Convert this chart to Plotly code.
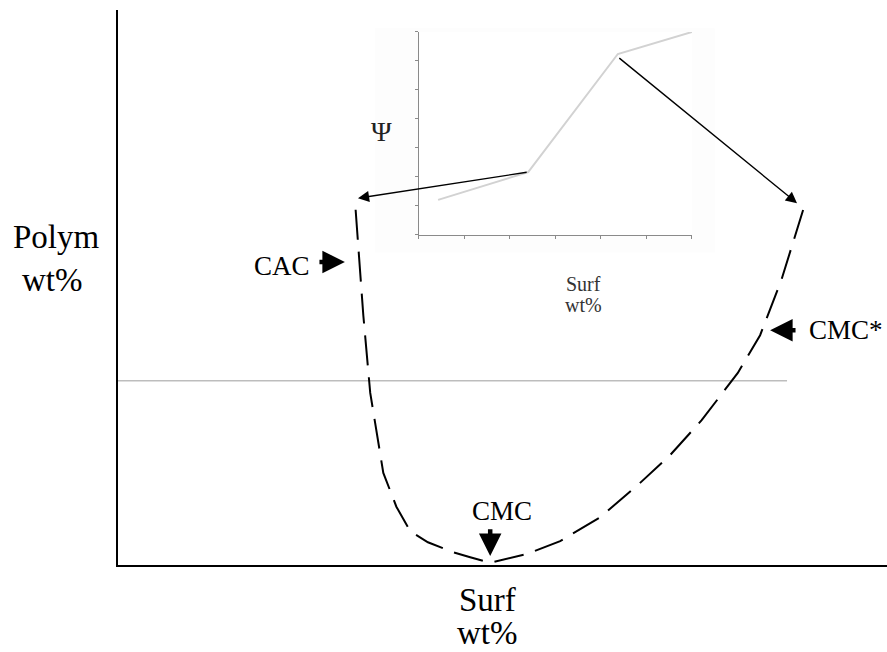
import plotly.graph_objects as go

# Phase boundary (surfactant wt% vs polymer wt%), drawn dashed
boundary_surf = [3.09, 3.12, 3.19, 3.28, 3.45, 3.62, 3.80, 4.03, 4.36, 4.58, 4.84,
                 5.32, 5.75, 6.27, 6.79, 7.18, 7.59, 8.06, 8.35, 8.63, 8.91]
boundary_polym = [6.40, 5.86, 4.50, 3.10, 1.66, 1.05, 0.61, 0.41, 0.23, 0.14, 0.04,
                  0.20, 0.43, 0.86, 1.48, 1.98, 2.61, 3.46, 4.14, 5.15, 6.40]

# Constant-polymer cut through the diagram
cut_polym = 3.32
cut_surf = [0.0, 8.70]

# Inset: property Psi along the cut
inset_surf = [0.42, 2.40, 4.37, 6.0]
inset_psi = [1.21, 2.17, 6.24, 7.0]

# Where the inset knees land on the boundary
knee_targets = [(3.12, 6.61), (8.83, 6.52)]

MAIN_RANGE = (0, 10)
INSET_X_RANGE = (0, 6)
INSET_Y_RANGE = (0, 7)
INSET_X_DOMAIN = (0.3914, 0.7464)
INSET_Y_DOMAIN = (0.5946, 0.9604)

SERIF = "Liberation Serif, Times New Roman, serif"


def inset_to_main(xv, yv):
    fx = INSET_X_DOMAIN[0] + (xv - INSET_X_RANGE[0]) / (INSET_X_RANGE[1] - INSET_X_RANGE[0]) * (INSET_X_DOMAIN[1] - INSET_X_DOMAIN[0])
    fy = INSET_Y_DOMAIN[0] + (yv - INSET_Y_RANGE[0]) / (INSET_Y_RANGE[1] - INSET_Y_RANGE[0]) * (INSET_Y_DOMAIN[1] - INSET_Y_DOMAIN[0])
    span = MAIN_RANGE[1] - MAIN_RANGE[0]
    return MAIN_RANGE[0] + fx * span, MAIN_RANGE[0] + fy * span


fig = go.Figure()

fig.add_trace(go.Scatter(
    x=cut_surf, y=[cut_polym, cut_polym], mode="lines",
    line=dict(color="#bdbdbd", width=1.5), xaxis="x", yaxis="y", hoverinfo="skip"))

fig.add_trace(go.Scatter(
    x=boundary_surf, y=boundary_polym, mode="lines",
    line=dict(color="black", width=2, dash="30px,12px"), xaxis="x", yaxis="y", hoverinfo="skip"))

fig.add_trace(go.Scatter(
    x=inset_surf, y=inset_psi, mode="lines",
    line=dict(color="#d2d2d2", width=2), xaxis="x2", yaxis="y2", hoverinfo="skip"))

annotations = []

# Arrows from the inset knees to the boundary
for (ix, iy), (tx, ty) in zip([(inset_surf[1], inset_psi[1]), (inset_surf[2], inset_psi[2] - 0.1)], knee_targets):
    sx, sy = inset_to_main(ix, iy)
    annotations.append(dict(
        x=tx, y=ty, ax=sx, ay=sy, xref="x", yref="y", axref="x", ayref="y",
        text="", showarrow=True, arrowhead=2, arrowsize=1.6, arrowwidth=1.4, arrowcolor="black"))

# Short bold pointer arrows
pointers = [
    dict(x=2.95, y=5.46, ax=2.60, ay=5.46),   # CAC
    dict(x=8.48, y=4.23, ax=8.83, ay=4.23),   # CMC*
    dict(x=4.84, y=0.16, ax=4.84, ay=0.67),   # CMC
]
for p in pointers:
    annotations.append(dict(
        **p, xref="x", yref="y", axref="x", ayref="y", text="", showarrow=True,
        arrowhead=2, arrowsize=1.0, arrowwidth=4.5, arrowcolor="black"))

labels = [
    dict(text="CAC", x=2.13, y=5.39, xanchor="center"),
    dict(text="CMC*", x=8.96, y=4.23, xanchor="left"),
    dict(text="CMC", x=4.99, y=0.97, xanchor="center"),
]
for lab in labels:
    annotations.append(dict(
        **lab, xref="x", yref="y", yanchor="middle", showarrow=False,
        font=dict(family=SERIF, size=27, color="black")))

# Axis titles
for txt, x, y in [("Polym", -0.0800, 0.591), ("wt%", -0.0850, 0.5135),
                  ("Surf", 0.481, -0.0630), ("wt%", 0.481, -0.1220)]:
    annotations.append(dict(
        text=txt, x=x, y=y, xref="paper", yref="paper", xanchor="center", yanchor="middle",
        showarrow=False, font=dict(family=SERIF, size=33, color="black")))

# Inset labels
annotations.append(dict(text="Ψ", x=0.343, y=0.812, xref="paper", yref="paper",
                        showarrow=False, font=dict(family=SERIF, size=28, color="#222")))
annotations.append(dict(text="Surf", x=0.605, y=0.506, xref="paper", yref="paper",
                        showarrow=False, font=dict(family=SERIF, size=20, color="#333")))
annotations.append(dict(text="wt%", x=0.605, y=0.468, xref="paper", yref="paper",
                        showarrow=False, font=dict(family=SERIF, size=20, color="#333")))

fig.update_layout(
    width=887, height=652,
    margin=dict(l=118, r=0, t=10, b=87),
    paper_bgcolor="white", plot_bgcolor="white",
    showlegend=False,
    xaxis=dict(range=list(MAIN_RANGE), showgrid=False, zeroline=False, showticklabels=False,
               ticks="", showline=True, linecolor="black", linewidth=2, domain=[0, 1]),
    yaxis=dict(range=list(MAIN_RANGE), showgrid=False, zeroline=False, showticklabels=False,
               ticks="", showline=True, linecolor="black", linewidth=2, domain=[0, 1]),
    xaxis2=dict(range=list(INSET_X_RANGE), domain=list(INSET_X_DOMAIN), anchor="y2",
                showgrid=False, zeroline=False, showticklabels=False, showline=True,
                linecolor="#8a8a8a", linewidth=1, ticks="outside", ticklen=3, tickwidth=1,
                tickcolor="#8a8a8a", dtick=1, tick0=0),
    yaxis2=dict(range=list(INSET_Y_RANGE), domain=list(INSET_Y_DOMAIN), anchor="x2",
                showgrid=False, zeroline=False, showticklabels=False, showline=True,
                linecolor="#8a8a8a", linewidth=1, ticks="outside", ticklen=3, tickwidth=1,
                tickcolor="#8a8a8a", dtick=1, tick0=0),
    annotations=annotations,
    shapes=[dict(type="rect", xref="paper", yref="paper", x0=0.334, x1=0.776, y0=0.563, y1=0.967,
                 fillcolor="#fdfdfd", line=dict(width=0), layer="below")],
)

fig.write_html("out.html")
